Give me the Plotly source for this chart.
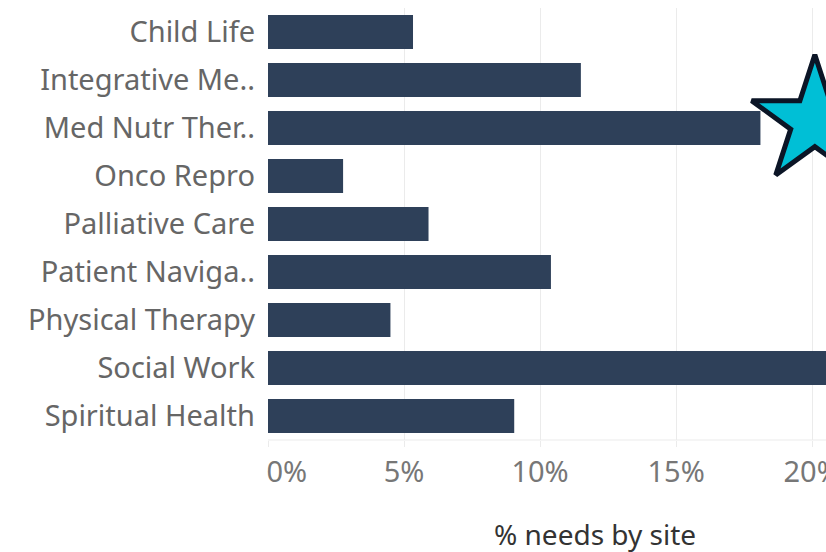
import plotly.graph_objects as go

categories = ["Child Life", "Integrative Me..", "Med Nutr Ther..", "Onco Repro",
              "Palliative Care", "Patient Naviga..", "Physical Therapy",
              "Social Work", "Spiritual Health"]
values = [0.0533, 0.115, 0.181, 0.0276, 0.059, 0.104, 0.045, 0.22, 0.0905]
tick_vals_x = [0, 0.05, 0.10, 0.15, 0.20]
tick_text_x = ["\u00a0" * 5 + "0%", "5%", "10%", "15%", "20%"]
axis_title = "% needs by site"
star_x = [0.201]
star_y = [1.86]

ypos = list(range(len(categories)))

fig = go.Figure()
fig.add_trace(go.Bar(
    x=values, y=ypos, orientation="h", width=0.71,
    marker=dict(color="#2E4059", line=dict(width=0)),
    showlegend=False, hoverinfo="skip"))
fig.add_trace(go.Scatter(
    x=star_x, y=star_y, mode="markers", cliponaxis=False,
    marker=dict(symbol="star", size=95, color="#00BFD6",
                line=dict(color="#0B1526", width=5)),
    showlegend=False, hoverinfo="skip"))

fig.update_layout(
    width=826, height=552,
    margin=dict(l=268, r=0, t=8, b=112),
    plot_bgcolor="white", paper_bgcolor="white",
    font=dict(family="Noto Sans", color="#666666", size=26),
    bargap=0.29,
    xaxis=dict(range=[0, 0.2051], tickvals=tick_vals_x, ticktext=tick_text_x,
               automargin=False, ticklabeloverflow="allow",
               showgrid=True, gridcolor="#EBEBEB", gridwidth=1,
               zeroline=False, ticks="outside", ticklen=6, tickcolor="#EBEBEB",
               showline=False,
               tickfont=dict(size=29, color="#777777")),
    yaxis=dict(range=[8.5, -0.5], tickvals=ypos, ticktext=categories,
               automargin=False,
               showgrid=False, zeroline=False, ticks="", showline=False,
               ticklabelstandoff=12,
               tickfont=dict(size=29, color="#666666")),
)
fig.add_shape(type="line", xref="paper", yref="paper", x0=0, x1=1, y0=0, y1=0,
              line=dict(color="#EBEBEB", width=1))
fig.add_annotation(text=axis_title, xref="paper", yref="paper", x=0.586, y=0,
                   yshift=-94, xanchor="center", yanchor="middle", showarrow=False,
                   font=dict(size=28, color="#333333"))

fig.write_html("out.html",
               config={"displayModeBar": False},
               post_script="document.body.style.margin='0';"
                           "document.body.style.overflow='hidden';")
